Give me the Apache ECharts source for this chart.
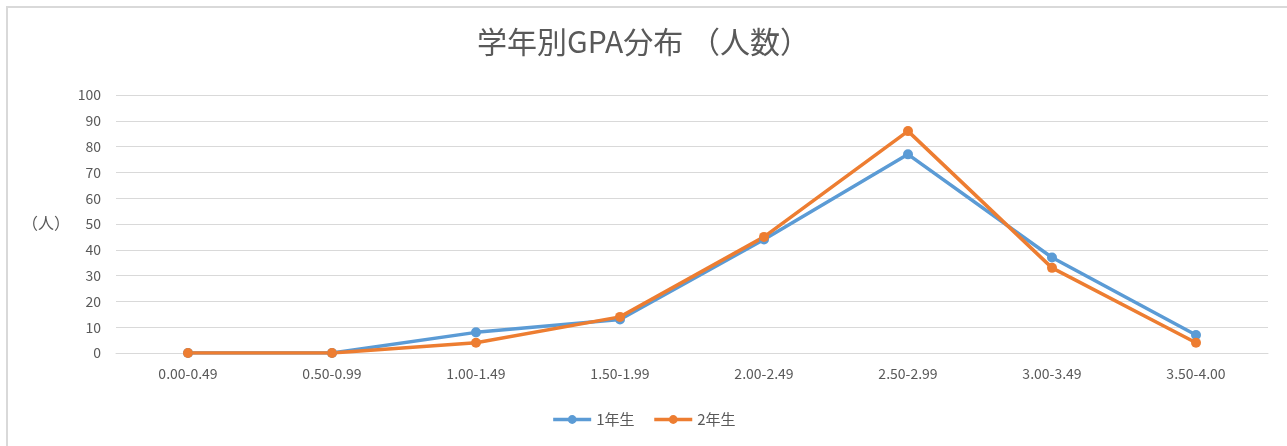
<!DOCTYPE html>
<html>
<head>
<meta charset="utf-8">
<script src="https://cdn.jsdelivr.net/npm/echarts@6/dist/echarts.min.js"></script>
<style>
html,body{margin:0;padding:0;background:#fff;}
#frame{position:absolute;left:6px;top:6px;width:1281px;height:440px;border-left:2px solid #d9d9d9;border-top:2px solid #d9d9d9;box-sizing:border-box;}
#chart{position:absolute;left:0;top:0;width:1287px;height:446px;}
</style>
</head>
<body>
<div id="frame"></div>
<div id="chart"></div>
<script>
const categories = ['0.00-0.49','0.50-0.99','1.00-1.49','1.50-1.99','2.00-2.49','2.50-2.99','3.00-3.49','3.50-4.00'];
const grade1 = [0,0,8,13,44,77,37,7];
const grade2 = [0,0,4,14,45,86,33,4];
const seriesNames = ['1年生','2年生'];
const titleText = '学年別GPA分布 （人数）';
const yUnit = '（人）';

const font = '"Noto Sans CJK JP", "Noto Sans", sans-serif';
const chart = echarts.init(document.getElementById('chart'));
chart.setOption({
  backgroundColor: 'transparent',
  animation: false,
  textStyle: {fontFamily: font},
  title: {
    text: titleText, left: 'center', top: 22,
    textStyle: {fontSize: 30, fontWeight: 'normal', color: '#595959', fontFamily: font}
  },
  legend: {
    bottom: 14, left: 'center', itemWidth: 38, itemHeight: 11, itemGap: 18,
    textStyle: {fontSize: 15, color: '#595959'},
    itemStyle: {borderWidth: 0},
    lineStyle: {width: 3.5},
    data: seriesNames
  },
  grid: {left: 116, right: 19, top: 95, bottom: 93},
  xAxis: {
    type: 'category', data: categories, boundaryGap: true,
    axisLine: {lineStyle: {color: '#d9d9d9', width: 1}},
    axisTick: {show: false},
    axisLabel: {color: '#595959', fontSize: 14, margin: 14}
  },
  yAxis: {
    type: 'value', min: 0, max: 100, interval: 10,
    axisLine: {show: false}, axisTick: {show: false},
    axisLabel: {color: '#595959', fontSize: 14, margin: 15},
    splitLine: {lineStyle: {color: '#d9d9d9', width: 1}}
  },
  graphic: [{
    type: 'text', left: 22, top: 215,
    style: {text: yUnit, fontSize: 16, fill: '#595959', fontFamily: font}
  }],
  series: [
    {name: seriesNames[0], type: 'line', data: grade1, symbol: 'circle', symbolSize: 10,
     color: '#5B9BD5', lineStyle: {width: 3.5, color: '#5B9BD5'}, itemStyle: {color: '#5B9BD5'}},
    {name: seriesNames[1], type: 'line', data: grade2, symbol: 'circle', symbolSize: 10,
     color: '#ED7D31', lineStyle: {width: 3.5, color: '#ED7D31'}, itemStyle: {color: '#ED7D31'}}
  ]
});
</script>
</body>
</html>
